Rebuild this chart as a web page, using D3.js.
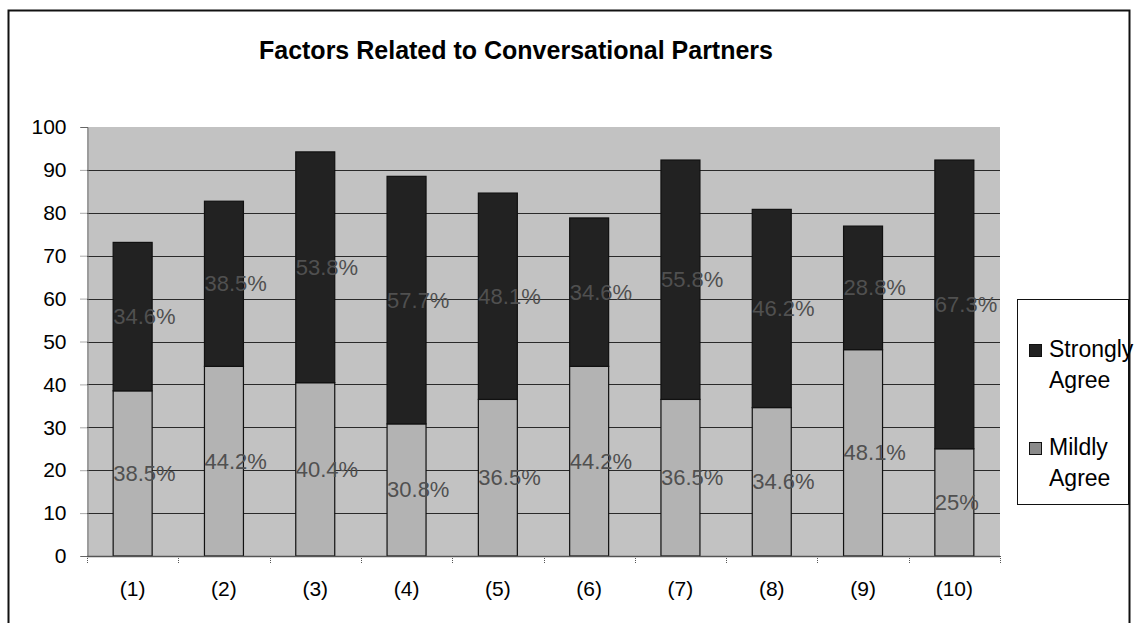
<!DOCTYPE html>
<html>
<head>
<meta charset="utf-8">
<script src="https://cdn.jsdelivr.net/npm/d3@7"></script>
<style>
  html, body { margin: 0; padding: 0; background: #fff; }
  svg { display: block; font-family: Arial, "Liberation Sans", sans-serif; }
</style>
</head>
<body>
<svg id="chart" width="1138" height="623"></svg>
<script>
// Survey responses per item (percent of respondents)
const categories = ["(1)", "(2)", "(3)", "(4)", "(5)", "(6)", "(7)", "(8)", "(9)", "(10)"];
const mildlyAgree = [38.5, 44.2, 40.4, 30.8, 36.5, 44.2, 36.5, 34.6, 48.1, 25.0];
const stronglyAgree = [34.6, 38.5, 53.8, 57.7, 48.1, 34.6, 55.8, 46.2, 28.8, 67.3];
const seriesNames = ["Strongly Agree", "Mildly Agree"];
const yTicks = [0, 10, 20, 30, 40, 50, 60, 70, 80, 90, 100];
const titleText = "Factors Related to Conversational Partners";

const svg = d3.select("#chart");

// Outer chart frame
svg.append("rect")
  .attr("x", 8.5).attr("y", 10.5)
  .attr("width", 1121).attr("height", 640)
  .attr("fill", "#fff").attr("stroke", "#111").attr("stroke-width", 2);

// Title
svg.append("text")
  .attr("x", 516).attr("y", 59)
  .attr("text-anchor", "middle")
  .attr("font-size", 25).attr("font-weight", "bold")
  .attr("fill", "#000")
  .text(titleText);

const plot = { left: 87, right: 1000, top: 127, bottom: 556 };

const x = d3.scaleBand()
  .domain(categories)
  .range([plot.left, plot.right])
  .paddingInner(0.573)
  .paddingOuter(0.2865);

const y = d3.scaleLinear()
  .domain([0, 100])
  .range([plot.bottom, plot.top]);

// Plot area background
svg.append("rect")
  .attr("x", plot.left).attr("y", plot.top)
  .attr("width", plot.right - plot.left).attr("height", plot.bottom - plot.top)
  .attr("fill", "#c2c2c2");

// Horizontal gridlines
svg.append("g")
  .selectAll("line")
  .data(yTicks.filter(t => t > 0 && t < 100))
  .join("line")
  .attr("x1", plot.left).attr("x2", plot.right)
  .attr("y1", d => Math.round(y(d)) + 0.5).attr("y2", d => Math.round(y(d)) + 0.5)
  .attr("stroke", "#2a2a2a").attr("stroke-width", 1);

// Y axis
const yAxis = d3.axisLeft(y).tickValues(yTicks).tickSize(7).tickPadding(14);
const gy = svg.append("g")
  .attr("transform", `translate(${plot.left + 0.5},0)`)
  .call(yAxis);
gy.select(".domain").attr("stroke", "#777");
gy.selectAll(".tick line").attr("stroke", "#555").attr("stroke-dasharray", "1,1");
gy.selectAll(".tick text")
  .attr("font-size", 21).attr("fill", "#000")
  .attr("font-family", "Arial, 'Liberation Sans', sans-serif");

// Stack the two series
const rows = categories.map((c, i) => ({ cat: c, mild: mildlyAgree[i], strong: stronglyAgree[i] }));
const stack = d3.stack().keys(["mild", "strong"]);
const layers = stack(rows);
const fills = { mild: "#b3b3b3", strong: "#222222" };

svg.append("g")
  .selectAll("g")
  .data(layers)
  .join("g")
  .attr("fill", d => fills[d.key])
  .selectAll("rect")
  .data(d => d)
  .join("rect")
  .attr("x", d => x(d.data.cat))
  .attr("y", d => y(d[1]))
  .attr("width", x.bandwidth())
  .attr("height", d => y(d[0]) - y(d[1]))
  .attr("stroke", "#111").attr("stroke-width", 1.2);

// X axis baseline and tick marks at category boundaries
svg.append("line")
  .attr("x1", plot.left).attr("x2", plot.right)
  .attr("y1", plot.bottom + 0.5).attr("y2", plot.bottom + 0.5)
  .attr("stroke", "#555").attr("stroke-width", 1.5);

const boundaries = d3.range(categories.length + 1).map(i => plot.left + i * x.step());
svg.append("g")
  .selectAll("line")
  .data(boundaries)
  .join("line")
  .attr("x1", d => Math.round(d) + 0.5).attr("x2", d => Math.round(d) + 0.5)
  .attr("y1", plot.bottom).attr("y2", plot.bottom + 7)
  .attr("stroke", "#555").attr("stroke-dasharray", "1,1");

svg.append("g")
  .selectAll("text")
  .data(categories)
  .join("text")
  .attr("x", d => x(d) + x.bandwidth() / 2)
  .attr("y", 596)
  .attr("text-anchor", "middle")
  .attr("font-size", 21).attr("fill", "#000")
  .text(d => d);

// Data labels centred vertically in each segment
const fmt = v => (v % 1 === 0 ? String(v) : v.toFixed(1)) + "%";
svg.append("g")
  .selectAll("g")
  .data(layers)
  .join("g")
  .selectAll("text")
  .data(d => d.map(s => ({ s, v: s[1] - s[0] })))
  .join("text")
  .attr("x", d => x(d.s.data.cat))
  .attr("y", d => (y(d.s[0]) + y(d.s[1])) / 2)
  .attr("dominant-baseline", "central")
  .attr("font-size", 22)
  .attr("fill", "#505050")
  .text(d => fmt(d.v));

// Legend
const legend = svg.append("g");
legend.append("rect")
  .attr("x", 1017.5).attr("y", 299.5)
  .attr("width", 111).attr("height", 205)
  .attr("fill", "#fff").attr("stroke", "#111").attr("stroke-width", 1);

const legendItems = [
  { key: "strong", lines: seriesNames[0].split(" "), top: 344 },
  { key: "mild", lines: seriesNames[1].split(" "), top: 442 }
];
legendItems.forEach(item => {
  legend.append("rect")
    .attr("x", 1029.5).attr("y", item.top + 0.5)
    .attr("width", 12).attr("height", 12)
    .attr("fill", item.key === "mild" ? "#8a8a8a" : fills[item.key]).attr("stroke", "#111");
  item.lines.forEach((line, j) => {
    legend.append("text")
      .attr("x", 1049).attr("y", item.top + 13 + j * 31)
      .attr("font-size", 23).attr("fill", "#000")
      .text(line);
  });
});
</script>
</body>
</html>
